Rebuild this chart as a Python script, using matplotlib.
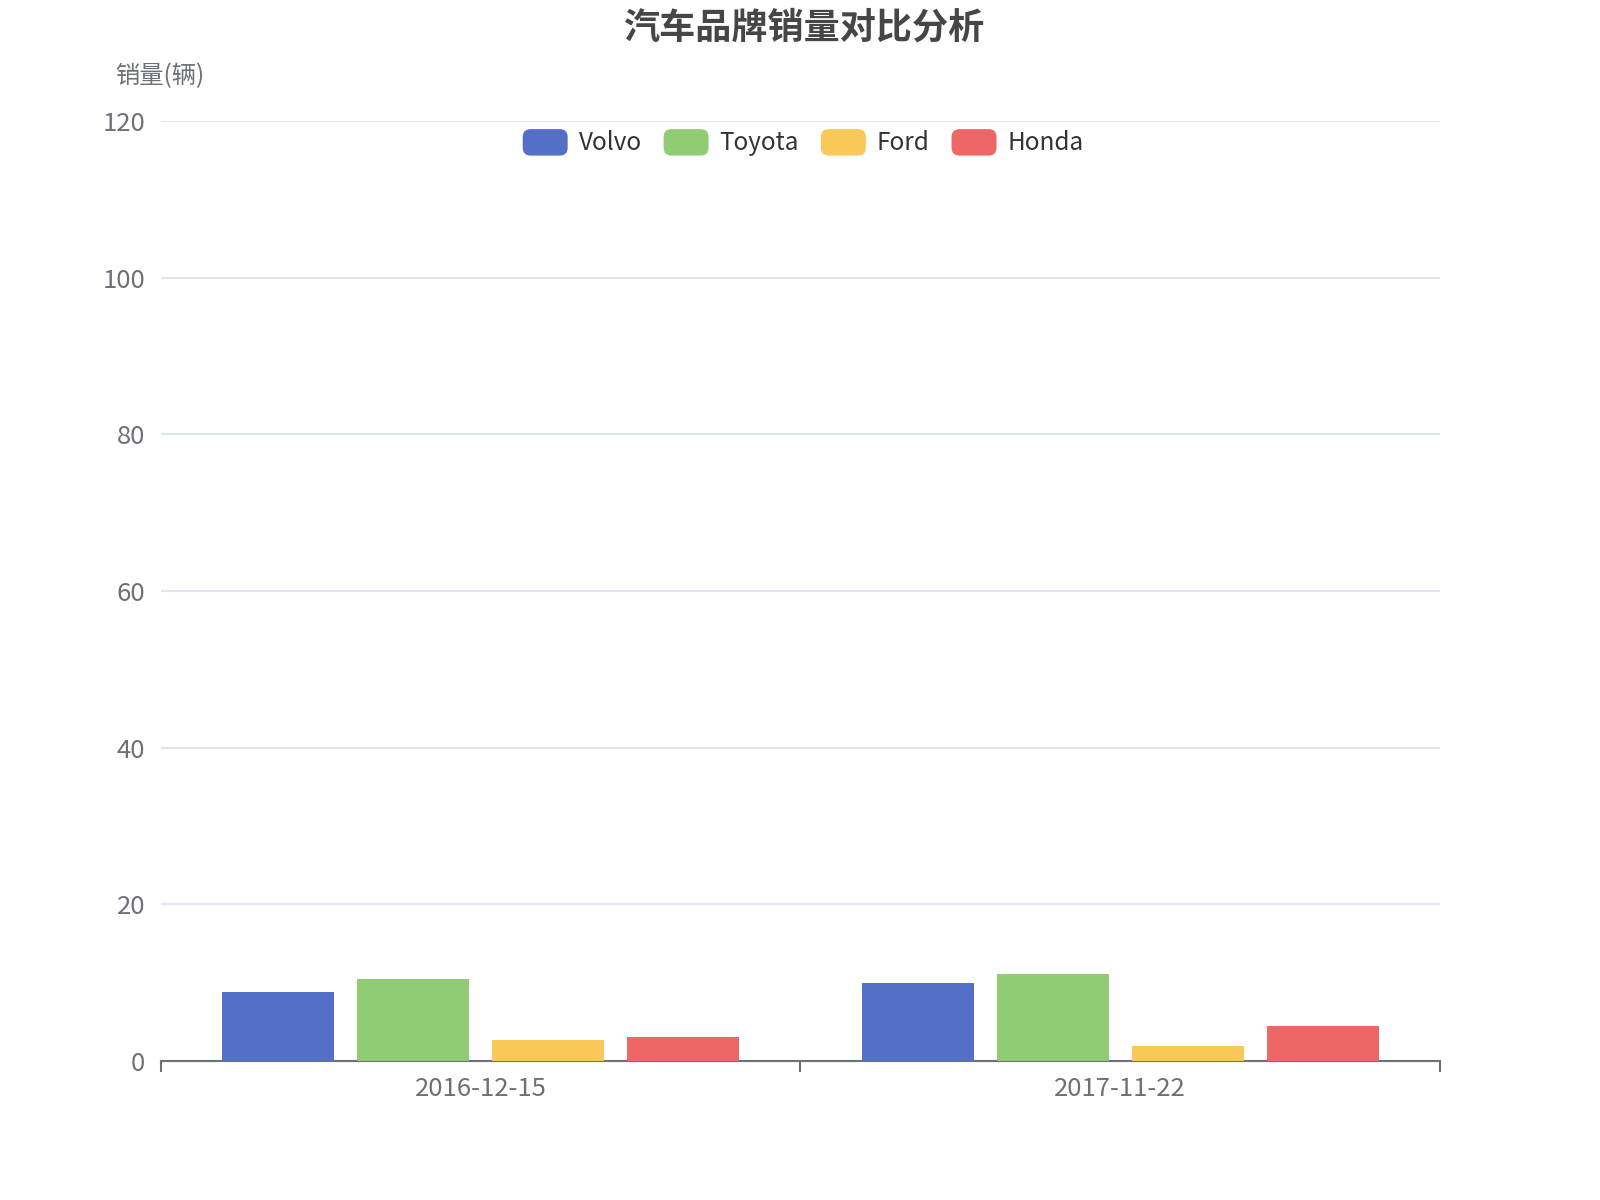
import matplotlib
matplotlib.use("Agg")
from matplotlib import pyplot as plt
from matplotlib.patches import FancyBboxPatch
from matplotlib.legend_handler import HandlerPatch
import numpy as np

plt.rcParams['font.family'] = ['Noto Sans CJK SC', 'DejaVu Sans']

# data
dates = ["2016-12-15", "2017-11-22"]
brands = ["Volvo", "Toyota", "Ford", "Honda"]
volvo = [8.8, 9.9]
toyota = [10.5, 11.1]
ford = [2.6, 1.95]
honda = [3.0, 4.4]
series = [volvo, toyota, ford, honda]
colors = ["#5470c6", "#91cc75", "#fac858", "#ee6666"]

AXIS_GRAY = "#6e7079"


class RoundHandler(HandlerPatch):
    """ rounded legend keys like echarts """
    def create_artists(self, legend, orig_handle, xdescent, ydescent,
                       width, height, fontsize, trans):
        p = FancyBboxPatch((-xdescent, -ydescent), width, height,
                           boxstyle="round,pad=0,rounding_size=%f" % (height * 0.3),
                           facecolor=orig_handle.get_facecolor(),
                           edgecolor="none", transform=trans)
        return [p]


fig = plt.figure(figsize=(16, 12), dpi=100)
ax = fig.add_axes([0.1004, 0.116, 0.7996, 0.783])

x = np.arange(len(dates))
bar_w = 0.175
step = 0.211
handles = []
for i, (vals, col) in enumerate(zip(series, colors)):
    offs = (i - 1.5) * step
    b = ax.bar(x + offs, vals, width=bar_w, color=col, label=brands[i], zorder=3)
    handles.append(b.patches[0])

ax.set_xlim(-0.5, 1.5)
ax.set_ylim(0, 120)
ax.set_yticks(range(0, 121, 20))
ax.set_xticks(x)
ax.set_xticklabels(dates)
ax.grid(axis="y", color="#e0e6f1", linewidth=1.5, zorder=0)
ax.set_axisbelow(True)

for s in ["top", "right", "left"]:
    ax.spines[s].set_visible(False)
ax.spines["bottom"].set_color(AXIS_GRAY)
ax.spines["bottom"].set_linewidth(1.5)

# category boundary ticks on x axis
ax.set_xticks([-0.5, 0.5, 1.5], minor=True)
ax.tick_params(axis="x", which="minor", length=8, width=1.5, color=AXIS_GRAY)
ax.tick_params(axis="x", which="major", length=0, pad=11,
               labelsize=18.5, labelcolor=AXIS_GRAY)
ax.tick_params(axis="y", length=0, pad=11, labelsize=18.5, labelcolor=AXIS_GRAY)

fig.text(0.502, 0.977, "汽车品牌销量对比分析", ha="center", va="center",
         fontsize=26, fontweight="bold", color="#464646")
fig.text(0.1, 0.937, "销量(辆)", ha="center", va="center",
         fontsize=17.5, color=AXIS_GRAY)

leg = ax.legend(handles=handles, labels=brands, ncol=4, loc="center",
                bbox_to_anchor=(0.502, 0.881), bbox_transform=fig.transFigure,
                frameon=False, fontsize=17.5, handlelength=1.85, handleheight=1.3,
                handletextpad=0.45, columnspacing=0.9,
                handler_map={h: RoundHandler() for h in handles})
for t in leg.get_texts():
    t.set_color("#333333")

fig.savefig("out.png", dpi=100)
